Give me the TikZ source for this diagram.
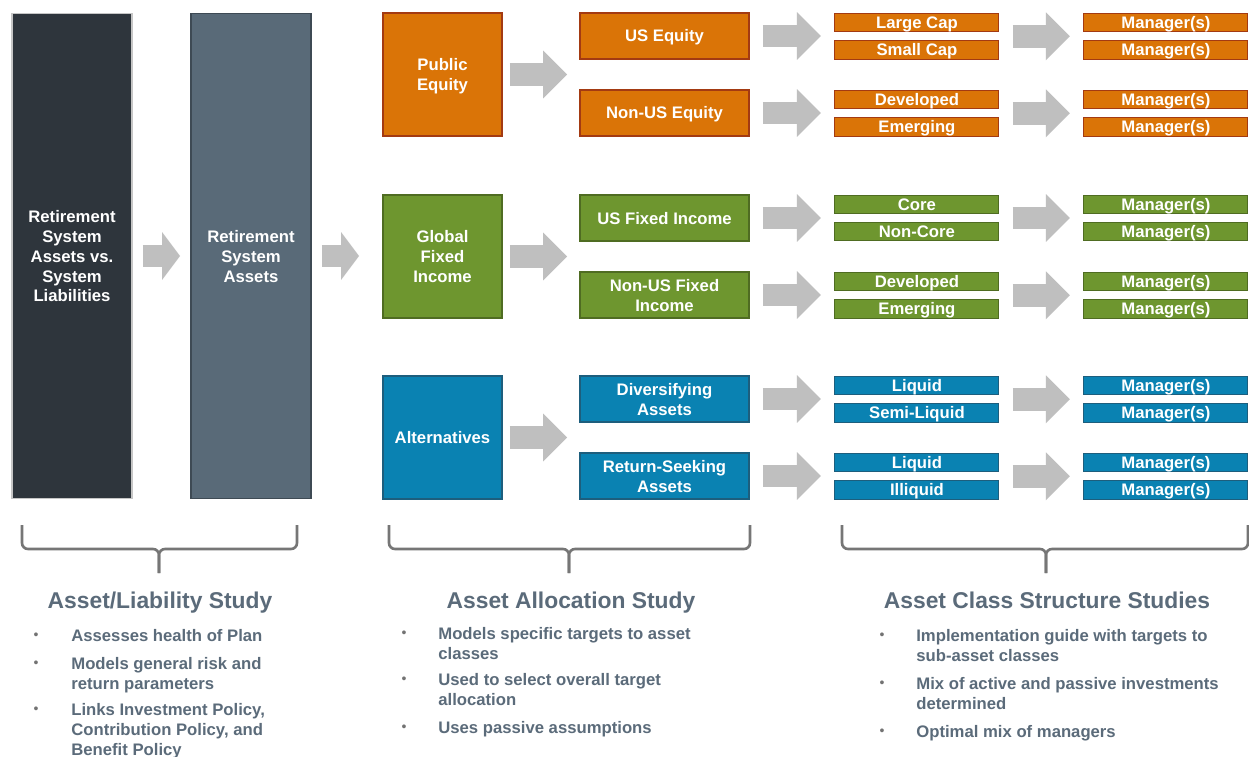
\documentclass[tikz,border=0pt]{standalone}
\usepackage{fontspec}
\setmainfont{Liberation Sans}
\usetikzlibrary{positioning,arrows.meta,calc}

\definecolor{darkslate}{HTML}{2E353C}
\definecolor{slate}{HTML}{596A78}
\definecolor{eqfill}{HTML}{DA7407}
\definecolor{eqline}{HTML}{A33A12}
\definecolor{fifill}{HTML}{6E962F}
\definecolor{filine}{HTML}{4F6C22}
\definecolor{altfill}{HTML}{0A82B2}
\definecolor{altline}{HTML}{1D5E7D}
\definecolor{arrowgray}{HTML}{BFBFBF}
\definecolor{bracegray}{HTML}{767676}
\definecolor{textslate}{HTML}{5B6B7A}

% fixed strut so box labels sit like the slide
\newcommand{\boxtext}[1]{\rule{0pt}{8.6pt}#1\rule[-1.5pt]{0pt}{1.5pt}}

\begin{document}
\begin{tikzpicture}[
        x=0.02cm, y=-0.02cm,
        box/.style={draw, line width=0.6pt, text=white, font=\bfseries\fontsize{9.5}{11.3}\selectfont, align=center, inner sep=0pt, outer sep=0pt},
        bigbox/.style={box, minimum width=2.4cm, minimum height=9.72cm},
        classbox/.style={box, minimum width=2.38cm, minimum height=2.46cm},
        midbox/.style={box, minimum width=3.38cm, minimum height=0.92cm},
        subbox/.style={box, minimum width=3.28cm, minimum height=0.36cm},
        equity/.style={fill=eqfill, draw=eqline},
        fixed/.style={fill=fifill, draw=filine},
        alts/.style={fill=altfill, draw=altline},
        fat/.style={line width=0.46cm, arrowgray, -{Triangle[width=0.96cm, length=0.48cm, line width=0pt]}},
        fatshort/.style={line width=0.44cm, arrowgray, -{Triangle[width=0.96cm, length=0.36cm, line width=0pt]}},
        brace/.style={draw=bracegray, line width=1.5pt, rounded corners=0.12cm},
        title/.style={text=textslate, font=\bfseries\fontsize{13}{15}\selectfont},
        itm/.style={anchor=north west, inner sep=0pt, text=textslate, font=\bfseries\fontsize{9.5}{11.3}\selectfont, align=left},
        dot/.style={inner sep=0pt, text=gray!90!black, font=\fontsize{8}{8}\selectfont}
    ]
    \fill[white] (0,0) rectangle (1249,757);
    \useasboundingbox (0,0) rectangle (1249,757);

    % plan level
    \node[bigbox, fill=darkslate, draw=gray!45] (rsal) at (72,256) {\boxtext{Retirement\\System\\Assets vs.\\System\\Liabilities}};
    \node[bigbox, fill=slate, draw=slate!70!black] (rsa) at (251,256) {\boxtext{Retirement\\System\\Assets}};

    % asset classes
    \node[classbox, equity] (pubeq) at (442.5,74.5) {\boxtext{Public\\Equity}};
    \node[classbox, fixed] (glofi) at (442.5,256.5) {\boxtext{Global\\Fixed\\Income}};
    \node[classbox, alts] (alter) at (442.5,437.5) {\boxtext{Alternatives}};

    \node[midbox, equity] (useq) at (664.5,36) {\boxtext{US Equity}};
    \node[midbox, equity] (nuseq) at (664.5,113) {\boxtext{Non-US Equity}};
    \node[midbox, fixed] (usfi) at (664.5,218) {\boxtext{US Fixed Income}};
    \node[midbox, fixed] (nusfi) at (664.5,295) {\boxtext{Non-US Fixed\\Income}};
    \node[midbox, alts] (divas) at (664.5,399) {\boxtext{Diversifying\\Assets}};
    \node[midbox, alts] (retas) at (664.5,476) {\boxtext{Return-Seeking\\Assets}};

    % sub-asset classes
    \node[subbox, equity, right=1.72cm of useq, yshift=0.27cm] (lcap) {\boxtext{Large Cap}};
    \node[subbox, equity, below=0.18cm of lcap] (scap) {\boxtext{Small Cap}};
    \node[subbox, equity, right=1.72cm of nuseq, yshift=0.27cm] (eqdev) {\boxtext{Developed}};
    \node[subbox, equity, below=0.18cm of eqdev] (eqemg) {\boxtext{Emerging}};
    \node[subbox, fixed, right=1.72cm of usfi, yshift=0.27cm] (core) {\boxtext{Core}};
    \node[subbox, fixed, below=0.18cm of core] (noncore) {\boxtext{Non-Core}};
    \node[subbox, fixed, right=1.72cm of nusfi, yshift=0.27cm] (fidev) {\boxtext{Developed}};
    \node[subbox, fixed, below=0.18cm of fidev] (fiemg) {\boxtext{Emerging}};
    \node[subbox, alts, right=1.72cm of divas, yshift=0.27cm] (liqa) {\boxtext{Liquid}};
    \node[subbox, alts, below=0.18cm of liqa] (semiliq) {\boxtext{Semi-Liquid}};
    \node[subbox, alts, right=1.72cm of retas, yshift=0.27cm] (liqb) {\boxtext{Liquid}};
    \node[subbox, alts, below=0.18cm of liqb] (illiq) {\boxtext{Illiquid}};

    % managers
    \node[subbox, equity, right=1.7cm of lcap] (mgra) {\boxtext{Manager(s)}};
    \node[subbox, equity, right=1.7cm of scap] (mgrb) {\boxtext{Manager(s)}};
    \node[subbox, equity, right=1.7cm of eqdev] (mgrc) {\boxtext{Manager(s)}};
    \node[subbox, equity, right=1.7cm of eqemg] (mgrd) {\boxtext{Manager(s)}};
    \node[subbox, fixed, right=1.7cm of core] (mgre) {\boxtext{Manager(s)}};
    \node[subbox, fixed, right=1.7cm of noncore] (mgrf) {\boxtext{Manager(s)}};
    \node[subbox, fixed, right=1.7cm of fidev] (mgrg) {\boxtext{Manager(s)}};
    \node[subbox, fixed, right=1.7cm of fiemg] (mgrh) {\boxtext{Manager(s)}};
    \node[subbox, alts, right=1.7cm of liqa] (mgri) {\boxtext{Manager(s)}};
    \node[subbox, alts, right=1.7cm of semiliq] (mgrj) {\boxtext{Manager(s)}};
    \node[subbox, alts, right=1.7cm of liqb] (mgrk) {\boxtext{Manager(s)}};
    \node[subbox, alts, right=1.7cm of illiq] (mgrl) {\boxtext{Manager(s)}};

    % block arrows
    \draw[fatshort, shorten <=0.22cm, shorten >=0.22cm] (rsal) -- (rsa);
    \draw[fatshort, shorten <=0.22cm, shorten >=0.48cm] (rsa) -- (rsa -| glofi.west);
    \draw[fat, shorten <=0.16cm, shorten >=0.26cm] (pubeq) -- (pubeq -| useq.west);
    \draw[fat, shorten <=0.16cm, shorten >=0.26cm] (glofi) -- (glofi -| usfi.west);
    \draw[fat, shorten <=0.16cm, shorten >=0.26cm] (alter) -- (alter -| divas.west);
    \draw[fat, shorten <=0.28cm, shorten >=0.28cm] (useq) -- (useq -| lcap.west);
    \draw[fat, shorten <=0.28cm, shorten >=0.28cm] (nuseq) -- (nuseq -| eqdev.west);
    \draw[fat, shorten <=0.28cm, shorten >=0.28cm] (usfi) -- (usfi -| core.west);
    \draw[fat, shorten <=0.28cm, shorten >=0.28cm] (nusfi) -- (nusfi -| fidev.west);
    \draw[fat, shorten <=0.28cm, shorten >=0.28cm] (divas) -- (divas -| liqa.west);
    \draw[fat, shorten <=0.28cm, shorten >=0.28cm] (retas) -- (retas -| liqb.west);
    \draw[fat, shorten <=0.28cm, shorten >=0.28cm] ($(lcap.east)!0.5!(scap.east)$) -- ($(mgra.west)!0.5!(mgrb.west)$);
    \draw[fat, shorten <=0.28cm, shorten >=0.28cm] ($(eqdev.east)!0.5!(eqemg.east)$) -- ($(mgrc.west)!0.5!(mgrd.west)$);
    \draw[fat, shorten <=0.28cm, shorten >=0.28cm] ($(core.east)!0.5!(noncore.east)$) -- ($(mgre.west)!0.5!(mgrf.west)$);
    \draw[fat, shorten <=0.28cm, shorten >=0.28cm] ($(fidev.east)!0.5!(fiemg.east)$) -- ($(mgrg.west)!0.5!(mgrh.west)$);
    \draw[fat, shorten <=0.28cm, shorten >=0.28cm] ($(liqa.east)!0.5!(semiliq.east)$) -- ($(mgri.west)!0.5!(mgrj.west)$);
    \draw[fat, shorten <=0.28cm, shorten >=0.28cm] ($(liqb.east)!0.5!(illiq.east)$) -- ($(mgrk.west)!0.5!(mgrl.west)$);

    % braces
    \draw[brace] (22,525) -- (22,549) -- (159,549) -- (159,573);
    \draw[brace] (297,525) -- (297,549) -- (159,549) -- (159,573);
    \draw[brace] (389,525) -- (389,549) -- (569,549) -- (569,573);
    \draw[brace] (750,525) -- (750,549) -- (569,549) -- (569,573);
    \draw[brace] (842,525) -- (842,549) -- (1046,549) -- (1046,573);
    \draw[brace] (1248,525) -- (1248,549) -- (1046,549) -- (1046,573);

    % study titles
    \node[title] (alstudy) at (160,603) {Asset/Liability Study};
    \node[title] (aastudy) at (571,603) {Asset Allocation Study};
    \node[title] (acstudy) at (1047,600) {Asset Class Structure Studies};

    % bullet points
    \node[dot] (d11) at (36,636) {•};
    \node[itm] (i11) at (71,629) {Assesses health of Plan};
    \node[dot] (d12) at (36,664) {•};
    \node[itm] (i12) at (71,657) {Models general risk and\\return parameters};
    \node[dot] (d13) at (36,710) {•};
    \node[itm] (i13) at (71,703) {Links Investment Policy,\\Contribution Policy, and\\Benefit Policy};

    \node[dot] (d21) at (404,634) {•};
    \node[itm] (i21) at (438,627) {Models specific targets to asset\\classes};
    \node[dot] (d22) at (404,680) {•};
    \node[itm] (i22) at (438,673) {Used to select overall target\\allocation};
    \node[dot] (d23) at (404,728) {•};
    \node[itm] (i23) at (438,721) {Uses passive assumptions};

    \node[dot] (d31) at (882,636) {•};
    \node[itm] (i31) at (916,629) {Implementation guide with targets to\\sub-asset classes};
    \node[dot] (d32) at (882,684) {•};
    \node[itm] (i32) at (916,677) {Mix of active and passive investments\\determined};
    \node[dot] (d33) at (882,732) {•};
    \node[itm] (i33) at (916,725) {Optimal mix of managers};

\end{tikzpicture}
\end{document}
